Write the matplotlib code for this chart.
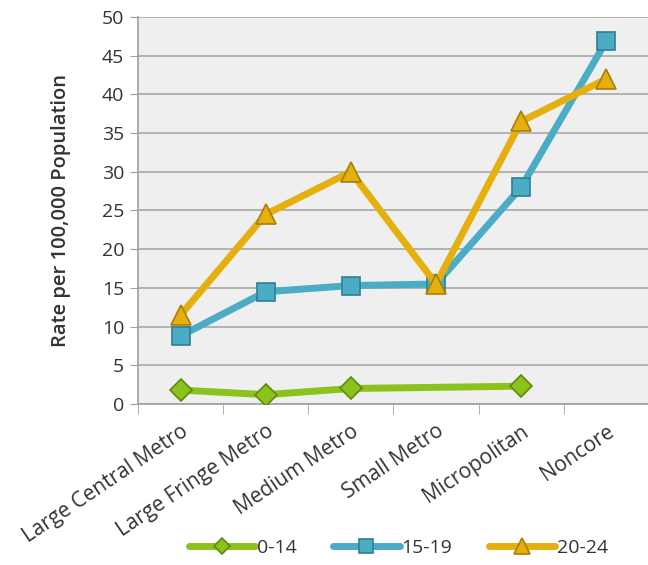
import numpy as np
import matplotlib.pyplot as plt

plt.rcParams['font.family'] = ['Open Sans', 'DejaVu Sans']

# data
categories = ['Large Central Metro', 'Large Fringe Metro', 'Medium Metro',
              'Small Metro', 'Micropolitan', 'Noncore']
age_0_14 = [1.8, 1.2, 2.0, np.nan, 2.3, np.nan]
age_15_19 = [8.8, 14.5, 15.3, 15.5, 28.0, 46.9]
age_20_24 = [11.5, 24.5, 30.0, 15.5, 36.5, 42.0]
yticks = [0, 5, 10, 15, 20, 25, 30, 35, 40, 45, 50]

fig = plt.figure(figsize=(6.48, 5.65), dpi=100)
ax = fig.add_axes([0.213, 0.285, 0.795, 0.685])
ax.set_facecolor('#efefef')

x = np.arange(len(categories))

def draw(vals, color, edge, marker, ms, label):
    v = np.array(vals, dtype=float)
    ok = ~np.isnan(v)
    ax.plot(x[ok], v[ok], color=color, lw=5, marker=marker, ms=ms,
            markerfacecolor=color, markeredgecolor=edge, markeredgewidth=1.2,
            label=label, solid_capstyle='round', zorder=3)

draw(age_0_14, '#8cc21c', '#5e8a10', 'D', 11, '0-14')
draw(age_15_19, '#4bacc6', '#2f7f94', 's', 13, '15-19')
draw(age_20_24, '#e5b00e', '#a87e05', '^', 15, '20-24')

ax.set_xlim(-0.5, 5.55)
ax.set_ylim(0, 50)
ax.set_yticks(yticks)
ax.tick_params(axis='y', labelsize=14, length=6, color='#a0a0a0', pad=4,
               labelcolor='#333333')
ax.yaxis.grid(True, color='#a8a8a8', lw=1.2)
ax.set_axisbelow(True)

ax.set_xticks(x)
ax.set_xticklabels(categories, rotation=34, ha='right', rotation_mode='anchor',
                   fontsize=15, color='#333333')
ax.tick_params(axis='x', length=0, pad=12)
ax.set_xticks(np.arange(-0.5, 5.6, 1), minor=True)
ax.tick_params(axis='x', which='minor', length=7, color='#a0a0a0')

for s in ['top', 'right']:
    ax.spines[s].set_visible(False)
ax.spines['left'].set_color('#a0a0a0')
ax.spines['bottom'].set_color('#a0a0a0')
ax.spines['left'].set_linewidth(1.2)
ax.spines['bottom'].set_linewidth(1.2)

ax.set_ylabel('Rate per 100,000 Population', fontsize=14.5, fontweight='semibold',
              labelpad=22, color='#333333')

leg = fig.legend(loc='center', bbox_to_anchor=(0.615, 0.03), ncol=3, frameon=False,
                 fontsize=14, handlelength=3.4, columnspacing=1.9, handletextpad=0.1,
                 markerscale=0.75)
for t in leg.get_texts():
    t.set_color('#333333')

fig.savefig('out.png', dpi=100)
